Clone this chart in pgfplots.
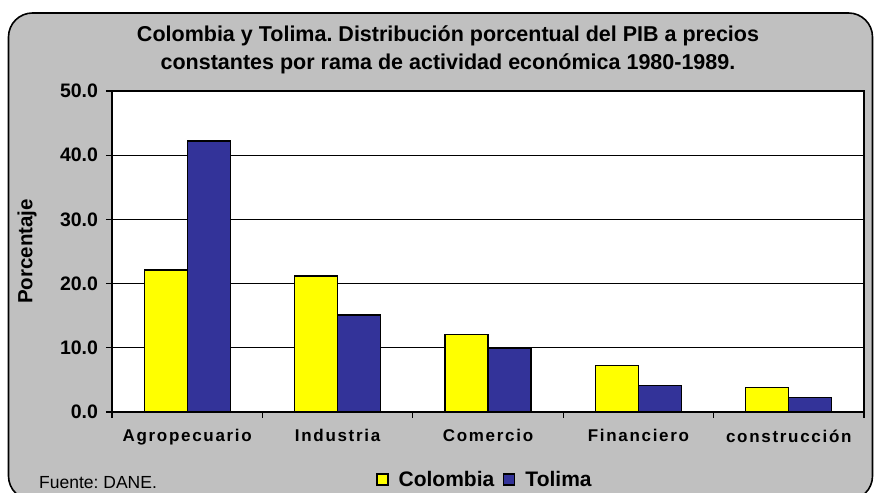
\documentclass[border=0pt]{standalone}
\usepackage{pgfplots}
\pgfplotsset{compat=1.18}
\usepackage{fontspec}
\setmainfont{Liberation Sans}
\newfontfamily\catfont[LetterSpace=10]{Liberation Sans}
\definecolor{bggray}{HTML}{C0C0C0}
\definecolor{colyellow}{HTML}{FFFF00}
\definecolor{tolnavy}{HTML}{333399}
\frenchspacing

\begin{document}
\begin{tikzpicture}[x=1pt,y=1pt]
\useasboundingbox (0,0) rectangle (874,492);
\begin{scope}
  \clip (0,0) rectangle (874,492);
  \draw[line width=1.6pt, fill=bggray, rounded corners=24pt] (8.5,-8) rectangle (872.5,479);
\end{scope}

% title
\node[anchor=base, font=\bfseries\fontsize{21.5}{24}\selectfont]
  at (448,450.3) {Colombia y Tolima. Distribución porcentual del PIB a precios};
\node[anchor=base, font=\bfseries\fontsize{21.5}{24}\selectfont]
  at (448,422) {constantes por rama de actividad económica 1980-1989.};

\node[anchor=base west, inner sep=0pt, font=\fontsize{17.5}{20}\selectfont]
  at (39,4) {Fuente: DANE.};

\begin{axis}[
    at={(112pt,80pt)}, anchor=south west,
    scale only axis,
    width=752pt, height=321pt,
    ybar=0pt, bar width=43pt,
    xmin=-0.5, xmax=4.5,
    ymin=0, ymax=50,
    axis background/.style={fill=white},
    axis line style={line width=1.8pt},
    ymajorgrids,
    grid style={black, line width=1.3pt},
    xtick={0,1,2,3,4},
    xticklabels={Agropecuario, Industria, Comercio, Financiero, construcción},
    major x tick style={draw=none},
    minor xtick={-0.5,0.5,1.5,2.5,3.5,4.5},
    ytick={0,10,20,30,40,50},
    yticklabels={0.0,10.0,20.0,30.0,40.0,50.0},
    tick align=outside,
    major tick length=6pt, minor tick length=6pt,
    xtick pos=left, ytick pos=left,
    tick style={black, line width=1.3pt},
    xticklabel style={font=\catfont\bfseries\fontsize{17}{19}\selectfont, yshift=-8pt},
    yticklabel style={font=\bfseries\fontsize{19.5}{22}\selectfont, xshift=-4.5pt},
    ylabel={Porcentaje},
    every axis y label/.style={at={(axis description cs:-0.113,0.5)}, rotate=90, anchor=center,
      font=\bfseries\fontsize{20.5}{22}\selectfont},
    legend style={at={(axis description cs:0.496,-0.212)}, anchor=center,
      draw=none, fill=none, legend columns=-1,
      font=\bfseries\fontsize{21}{24}\selectfont,
      /tikz/every odd column/.append style={column sep=8pt},
      /tikz/every even column/.append style={column sep=7pt}},
    legend image code/.code={\draw[#1, line width=1.2pt] (0pt,-5pt) rectangle (11pt,6pt);},
]
\addplot[fill=colyellow, draw=black, line width=1.3pt]
  coordinates {(0,22.1) (1,21.2) (2,12.1) (3,7.2) (4,3.8)};
\addplot[fill=tolnavy, draw=black, line width=1.3pt]
  coordinates {(0,42.2) (1,15.1) (2,9.9) (3,4.1) (4,2.3)};
\legend{Colombia, Tolima}
\end{axis}
\end{tikzpicture}
\end{document}
